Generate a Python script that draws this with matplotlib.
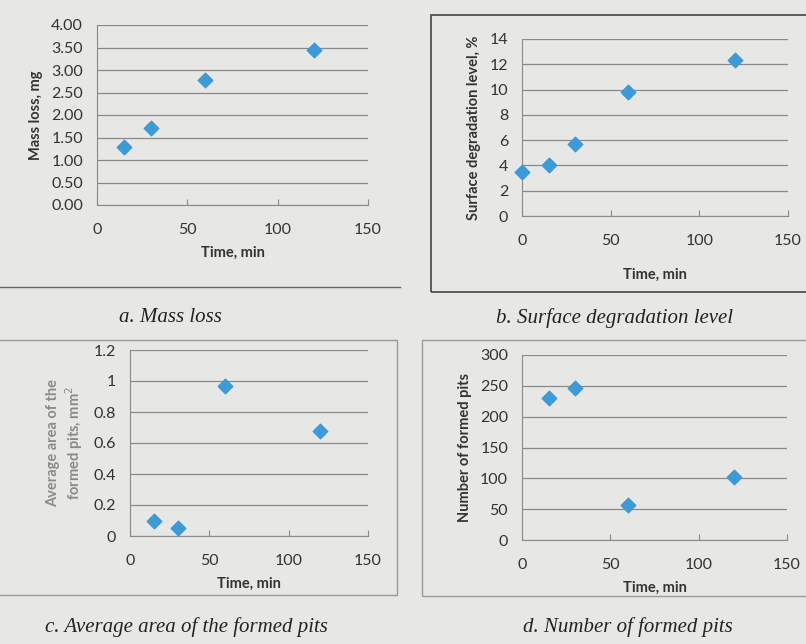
import matplotlib
matplotlib.use("Agg")
import matplotlib.pyplot as plt
from matplotlib.lines import Line2D
from matplotlib.patches import Rectangle

# data
time_a = [15, 30, 60, 120]
mass_loss = [1.28, 1.72, 2.78, 3.45]

time_b = [0, 15, 30, 60, 120]
surface_deg = [3.5, 4.0, 5.7, 9.8, 12.3]

time_c = [15, 30, 60, 120]
pit_area = [0.10, 0.05, 0.97, 0.68]

time_d = [15, 30, 60, 120]
pit_count = [230, 247, 57, 102]

W, H = 806, 644
page = "#e7e7e5"
blue = "#3d9ad6"
grid = "#8a8a8a"
txt = "#333333"

plt.rcParams["font.family"] = ["Lato", "DejaVu Sans"]

fig = plt.figure(figsize=(W / 100, H / 100), dpi=100)
fig.patch.set_facecolor(page)


def px_axes(x0, y0, x1, y1):
    # pixel box (top-left origin) -> figure fraction
    return fig.add_axes([x0 / W, 1 - y1 / H, (x1 - x0) / W, (y1 - y0) / H])


def frame(x0, y0, x1, y1, color="#555555", lw=1.0):
    fig.patches.append(Rectangle((x0 / W, 1 - y1 / H), (x1 - x0) / W, (y1 - y0) / H,
                                 transform=fig.transFigure, fill=False,
                                 edgecolor=color, linewidth=lw))


def style(ax, x, y, ylim, yticks, yfmt, ylabel, ylcolor=txt, xlpad=6):
    ax.set_facecolor("none")
    ax.scatter(x, y, marker="D", s=55, color=blue, zorder=3, clip_on=False)
    ax.set_xlim(0, 150)
    ax.set_ylim(*ylim)
    ax.set_xticks([0, 50, 100, 150])
    ax.set_yticks(yticks)
    ax.set_yticklabels([yfmt.format(v) for v in yticks])
    ax.yaxis.grid(True, color=grid, linewidth=0.9)
    ax.set_axisbelow(True)
    for s in ["top", "right"]:
        ax.spines[s].set_visible(False)
    for s in ["left", "bottom"]:
        ax.spines[s].set_color(grid)
    ax.tick_params(axis="x", direction="in", length=4, color=grid, pad=13,
                   labelsize=11.5, labelcolor=txt)
    ax.tick_params(axis="y", length=0, pad=10, labelsize=11.5, labelcolor=txt)
    ax.set_xlabel("Time, min", fontsize=10.5, fontweight="bold", color=txt, labelpad=xlpad)
    ax.set_ylabel(ylabel, fontsize=10.5, fontweight="bold", color=ylcolor, labelpad=6)


# frames of the pasted charts
fig.add_artist(Line2D([0, 400 / W], [1 - 287 / H, 1 - 287 / H], color="#666666", lw=1.0))
frame(431, 15, 812, 292, color="#444444", lw=1.2)
frame(-5, 340, 397, 595, color="#9a9a9a", lw=1.0)
frame(422, 340, 812, 596, color="#9a9a9a", lw=1.0)

ax_a = px_axes(97, 25, 368, 205)
style(ax_a, time_a, mass_loss, (0, 4), [0, 0.5, 1, 1.5, 2, 2.5, 3, 3.5, 4],
      "{:.2f}", "Mass loss, mg")

ax_b = px_axes(522, 39, 788, 216)
style(ax_b, time_b, surface_deg, (0, 14), [0, 2, 4, 6, 8, 10, 12, 14],
      "{:g}", "Surface degradation level, %", xlpad=14)

ax_c = px_axes(130, 350, 368, 536)
style(ax_c, time_c, pit_area, (0, 1.2), [0, 0.2, 0.4, 0.6, 0.8, 1.0, 1.2],
      "{:g}", "Average area of the\nformed pits, mm$^2$", ylcolor="#8a8a8a")

ax_d = px_axes(522, 355, 787, 540)
style(ax_d, time_d, pit_count, (0, 300), [0, 50, 100, 150, 200, 250, 300],
      "{:g}", "Number of formed pits")

cap = dict(family=["Liberation Serif", "DejaVu Serif"], style="italic",
           fontsize=15, color="#222222", ha="center", va="center")
fig.text(170 / W, 1 - 318 / H, "a. Mass loss", **cap)
fig.text(615 / W, 1 - 318 / H, "b. Surface degradation level", **cap)
fig.text(186 / W, 1 - 627 / H, "c. Average area of the formed pits", **cap)
fig.text(628 / W, 1 - 627 / H, "d. Number of formed pits", **cap)

fig.savefig("out.png", dpi=100, facecolor=page)
